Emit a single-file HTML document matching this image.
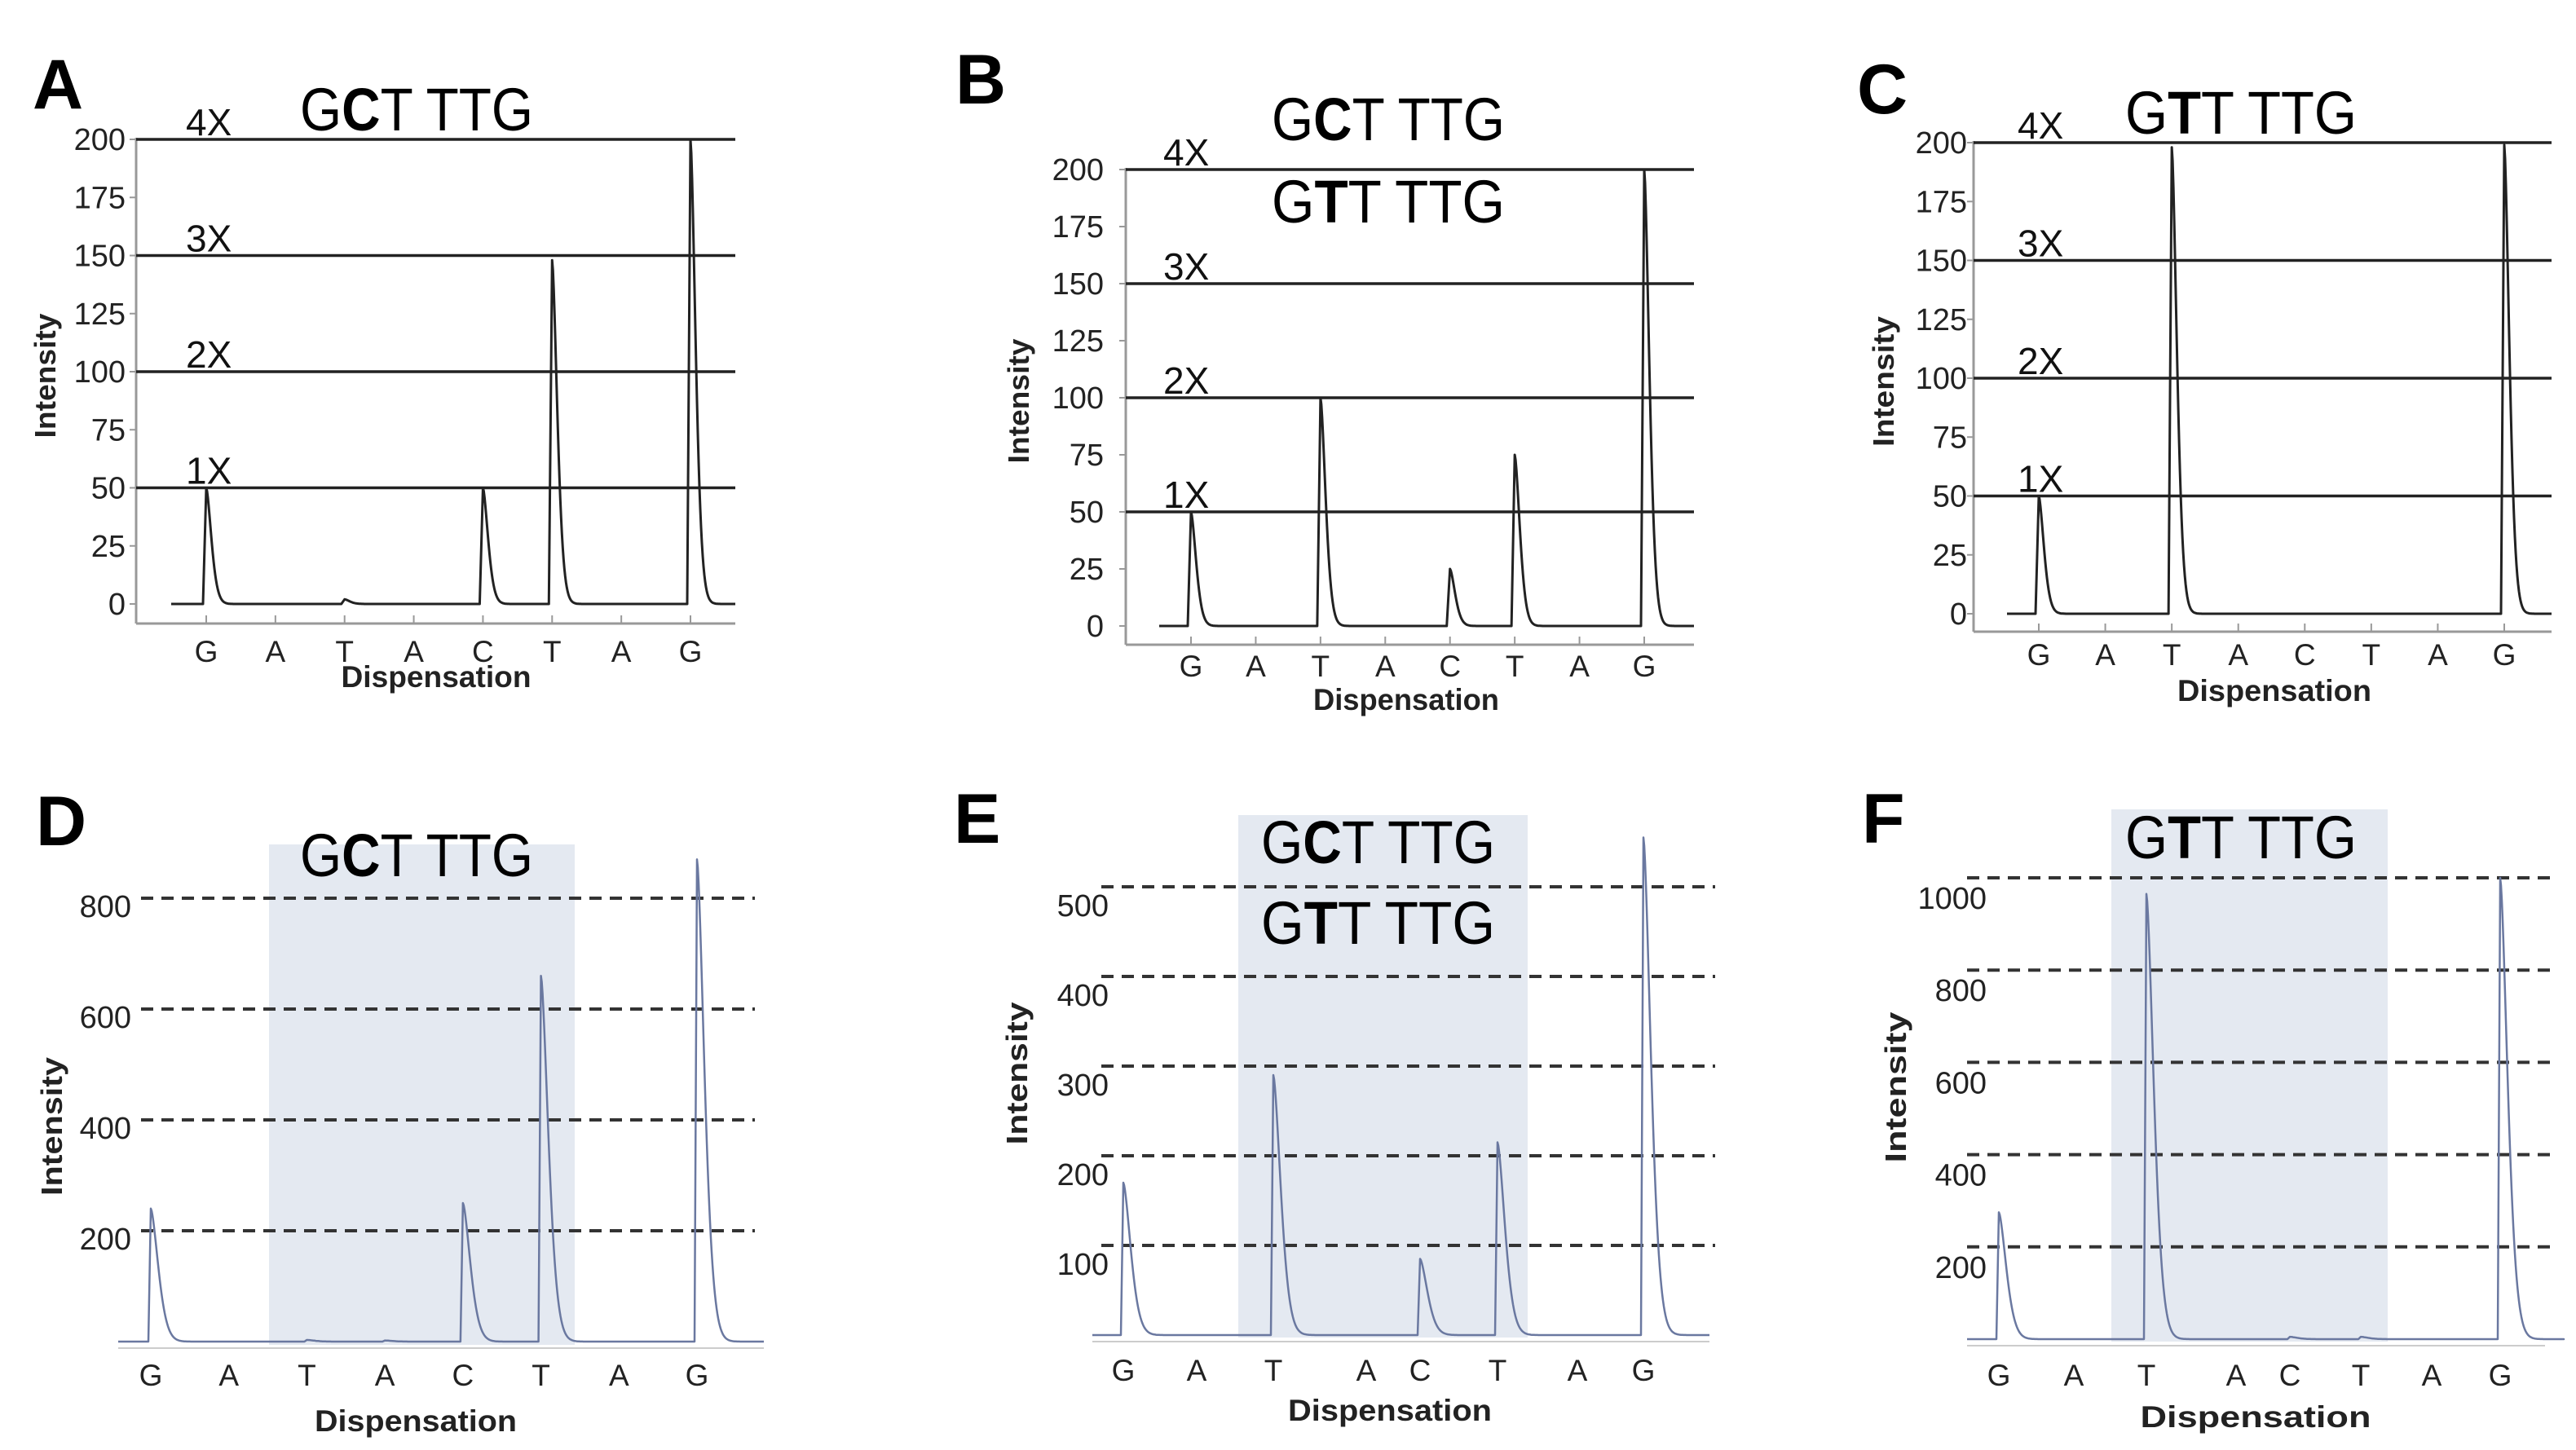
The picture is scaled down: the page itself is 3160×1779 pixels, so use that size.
<!DOCTYPE html>
<html><head><meta charset="utf-8"><style>
html,body{margin:0;padding:0;background:#fff;}
svg{display:block;}
text{font-family:"Liberation Sans",sans-serif;}
</style></head><body>
<svg id="fig" width="3160" height="1779" viewBox="0 0 3160 1779" xmlns="http://www.w3.org/2000/svg"></svg>
<script>
// ---- data ----
const bases = ['G','A','T','A','C','T','A','G'];
const peaksA = [50, 0, 2, 0, 50, 148, 0, 200];
const peaksB = [50, 0, 100, 0, 25, 75, 0, 200];
const peaksC = [50, 0, 198, 0, 0, 0, 0, 199];
const peaksD = [240, 0, 3, 2, 250, 660, 0, 870];
const peaksE = [170, 0, 290, 0, 85, 215, 0, 555];
const peaksF = [275, 0, 965, 0, 5, 5, 0, 1000];
const ticksTop = [0, 25, 50, 75, 100, 125, 150, 175, 200];
const levelsTop = [50, 100, 150, 200];
const levelLabels = ['1X', '2X', '3X', '4X'];
const ticksD = [200, 400, 600, 800];
const ticksE = [100, 200, 300, 400, 500];
const ticksF = [200, 400, 600, 800, 1000];

const NS = 'http://www.w3.org/2000/svg';
const svg = document.getElementById('fig');
function mk(tag, attrs, parent) {
  const e = document.createElementNS(NS, tag);
  for (const k in attrs) e.setAttribute(k, attrs[k]);
  (parent || svg).appendChild(e);
  return e;
}
function uniform(x0, x1) { const r = []; for (let i = 0; i < 8; i++) r.push(x0 + (x1 - x0) * i / 7); return r; }

function peakPath(xs, vals, yScale, startX, endX, tau, rise) {
  const y0 = yScale(0);
  let d = 'M' + startX + ',' + y0;
  for (let i = 0; i < vals.length; i++) {
    const v = vals[i];
    if (v <= 0) continue;
    const xp = xs[i];
    d += ' L' + (xp - rise) + ',' + y0 + ' L' + xp + ',' + yScale(v);
    for (let t = 1; t <= 6 * tau; t += 1) {
      const vv = v * Math.exp(-Math.pow(t / tau, 1.6));
      d += ' L' + (xp + t) + ',' + yScale(vv).toFixed(1);
    }
  }
  d += ' L' + endX + ',' + y0;
  return d;
}

function panel(c, vals, ticks) {
  const g = mk('g', {});
  
  
  const yS = v => c.y0 - v * c.ky;
  // shading
  if (c.shade) {
    const r = mk('rect', {x: c.shade[0], y: c.shade[2], width: c.shade[1] - c.shade[0], height: c.shade[3] - c.shade[2], fill: '#e4e9f1'}, g);
    
    
  }
  // letter
  const L = mk('text', {x: c.letter[0], y: c.letter[1], 'font-size': 86, 'font-weight': 'bold', fill: '#000'}, g);
  L.textContent = c.letterText;
  
  
  // titles
  c.titles.forEach((t, i) => {
    const T = mk('text', {x: t.x, y: t.y, 'font-size': 74, fill: '#000', textLength: t.w, lengthAdjust: 'spacingAndGlyphs'}, g);
    
    
    const a = mk('tspan', {}, T); a.textContent = 'G';
    const b = mk('tspan', {'font-weight': 'bold'}, T); b.textContent = t.mid;
    const r = mk('tspan', {}, T); r.textContent = 'T TTG';
  });
  // axes (top panels)
  if (!c.dashed) {
    mk('line', {x1: c.axL, y1: yS(200) - 2, x2: c.axL, y2: c.axisY, stroke: '#999', 'stroke-width': 3}, g);
    const ax = mk('line', {x1: c.axL, y1: c.axisY, x2: c.axR, y2: c.axisY, stroke: '#999', 'stroke-width': 3}, g);
    
    
    c.xs.forEach(x => mk('line', {x1: x, y1: c.axisY, x2: x, y2: c.axisY - 10, stroke: '#999', 'stroke-width': 2}, g));
    ticks.forEach(t => {
      mk('line', {x1: c.axL - 8, y1: yS(t), x2: c.axL, y2: yS(t), stroke: '#999', 'stroke-width': 2}, g);
    });
    // reference lines
    levelsTop.forEach((lv, i) => {
      const ln = mk('line', {x1: c.axL, y1: yS(lv), x2: c.axR, y2: yS(lv), stroke: '#222', 'stroke-width': 3.5}, g);
      
      
      const tx = mk('text', {x: c.lvlX, y: yS(lv) - 5, 'font-size': 46, fill: '#111'}, g);
      tx.textContent = levelLabels[i];
      
      
    });
  } else {
    mk('line', {x1: c.axL, y1: c.y0 + 8, x2: c.axR, y2: c.y0 + 8, stroke: '#ccc', 'stroke-width': 2}, g);
    ticks.forEach(t => {
      const ln = mk('line', {x1: c.dashL, y1: yS(t), x2: c.dashR, y2: yS(t), stroke: '#333', 'stroke-width': 4, 'stroke-dasharray': '15 10'}, g);
      
      
    });
  }
  // y tick labels
  ticks.forEach(t => {
    const tx = mk('text', {x: c.tickR, y: yS(t) + c.tickOff, 'font-size': 38, 'text-anchor': 'end', fill: '#222'}, g);
    tx.textContent = t;
    
    
  });
  // x labels
  bases.forEach((b, i) => {
    const tx = mk('text', {x: c.xs[i], y: c.xlabY, 'font-size': 37, 'text-anchor': 'middle', fill: '#222'}, g);
    tx.textContent = b;
    
    
  });
  const dx = mk('text', {x: c.disp[0], y: c.disp[1], 'font-size': 37, 'font-weight': 'bold', 'text-anchor': 'middle', fill: '#222', textLength: c.disp[2], lengthAdjust: 'spacingAndGlyphs'}, g);
  dx.textContent = 'Dispensation';
  
  
  const iy = mk('text', {x: 0, y: 0, 'font-size': 36, 'font-weight': 'bold', 'text-anchor': 'middle', fill: '#222', textLength: c.inty[2], lengthAdjust: 'spacingAndGlyphs', transform: 'translate(' + c.inty[0] + ',' + c.inty[1] + ') rotate(-90)'}, g);
  iy.textContent = 'Intensity';
  
  
  // trace
  const p = mk('path', {d: peakPath(c.xs, vals, yS, c.traceL, c.traceR, c.tau, c.rise), fill: 'none', stroke: c.dashed ? '#6a78a0' : '#222', 'stroke-width': c.dashed ? 2.5 : 3, 'stroke-linejoin': 'round'}, g);
  
  
}

panel({name: 'panel-a', letterText: 'A', letter: [40, 133], titles: [{x: 368, y: 160, w: 286, mid: 'C'}],
  xs: uniform(253, 847), y0: 741, ky: 2.85, axL: 167, axR: 902, axisY: 765, lvlX: 228,
  tickR: 154, tickOff: 13, xlabY: 812, disp: [535, 843, 233], inty: [68, 461, 153],
  traceL: 210, traceR: 902, tau: 9, rise: 4}, peaksA, ticksTop);
panel({name: 'panel-b', letterText: 'B', letter: [1172, 127], titles: [{x: 1560, y: 172, w: 286, mid: 'C'}, {x: 1560, y: 273, w: 286, mid: 'T'}],
  xs: uniform(1461, 2017), y0: 768, ky: 2.8, axL: 1381, axR: 2078, axisY: 791, lvlX: 1427,
  tickR: 1354, tickOff: 13, xlabY: 830, disp: [1725, 871, 228], inty: [1262, 492, 153],
  traceL: 1422, traceR: 2078, tau: 9, rise: 4}, peaksB, ticksTop);
panel({name: 'panel-c', letterText: 'C', letter: [2278, 139], titles: [{x: 2607, y: 164, w: 284, mid: 'T'}],
  xs: uniform(2501, 3072), y0: 753, ky: 2.89, axL: 2421, axR: 3130, axisY: 775, lvlX: 2475,
  tickR: 2413, tickOff: 13, xlabY: 816, disp: [2790, 860, 238], inty: [2323, 468, 160],
  traceL: 2462, traceR: 3130, tau: 9, rise: 4}, peaksC, ticksTop);
panel({name: 'panel-d', letterText: 'D', letter: [44, 1037], titles: [{x: 368, y: 1075, w: 286, mid: 'C'}],
  xs: uniform(185, 855), y0: 1646, ky: 0.68, axL: 145, axR: 937, dashed: true, dashL: 173, dashR: 926,
  shade: [330, 705, 1036, 1650],
  tickR: 161, tickOff: 23, xlabY: 1700, disp: [510, 1756, 248], inty: [76, 1382, 170],
  traceL: 145, traceR: 937, tau: 13, rise: 3}, peaksD, ticksD);
panel({name: 'panel-e', letterText: 'E', letter: [1170, 1034], titles: [{x: 1547, y: 1059, w: 287, mid: 'C'}, {x: 1547, y: 1158, w: 287, mid: 'T'}],
  xs: [1378, 1468, 1562, 1676, 1742, 1837, 1935, 2016], y0: 1638, ky: 1.1, axL: 1340, axR: 2097, dashed: true, dashL: 1351, dashR: 2104,
  shade: [1519, 1874, 1000, 1641],
  tickR: 1360, tickOff: 36, xlabY: 1694, disp: [1705, 1743, 250], inty: [1260, 1317, 175],
  traceL: 1340, traceR: 2097, tau: 13, rise: 3}, peaksE, ticksE);
panel({name: 'panel-f', letterText: 'F', letter: [2284, 1034], titles: [{x: 2607, y: 1053, w: 284, mid: 'T'}],
  xs: [2452, 2544, 2633, 2743, 2809, 2896, 2983, 3067], y0: 1643, ky: 0.566, axL: 2413, axR: 3122, dashed: true, dashL: 2413, dashR: 3138,
  shade: [2590, 2929, 993, 1646],
  tickR: 2437, tickOff: 38, xlabY: 1700, disp: [2767, 1751, 283], inty: [2338, 1334, 185],
  traceL: 2413, traceR: 3122, tau: 13, rise: 3}, peaksF, ticksF);
</script>
</body></html>
